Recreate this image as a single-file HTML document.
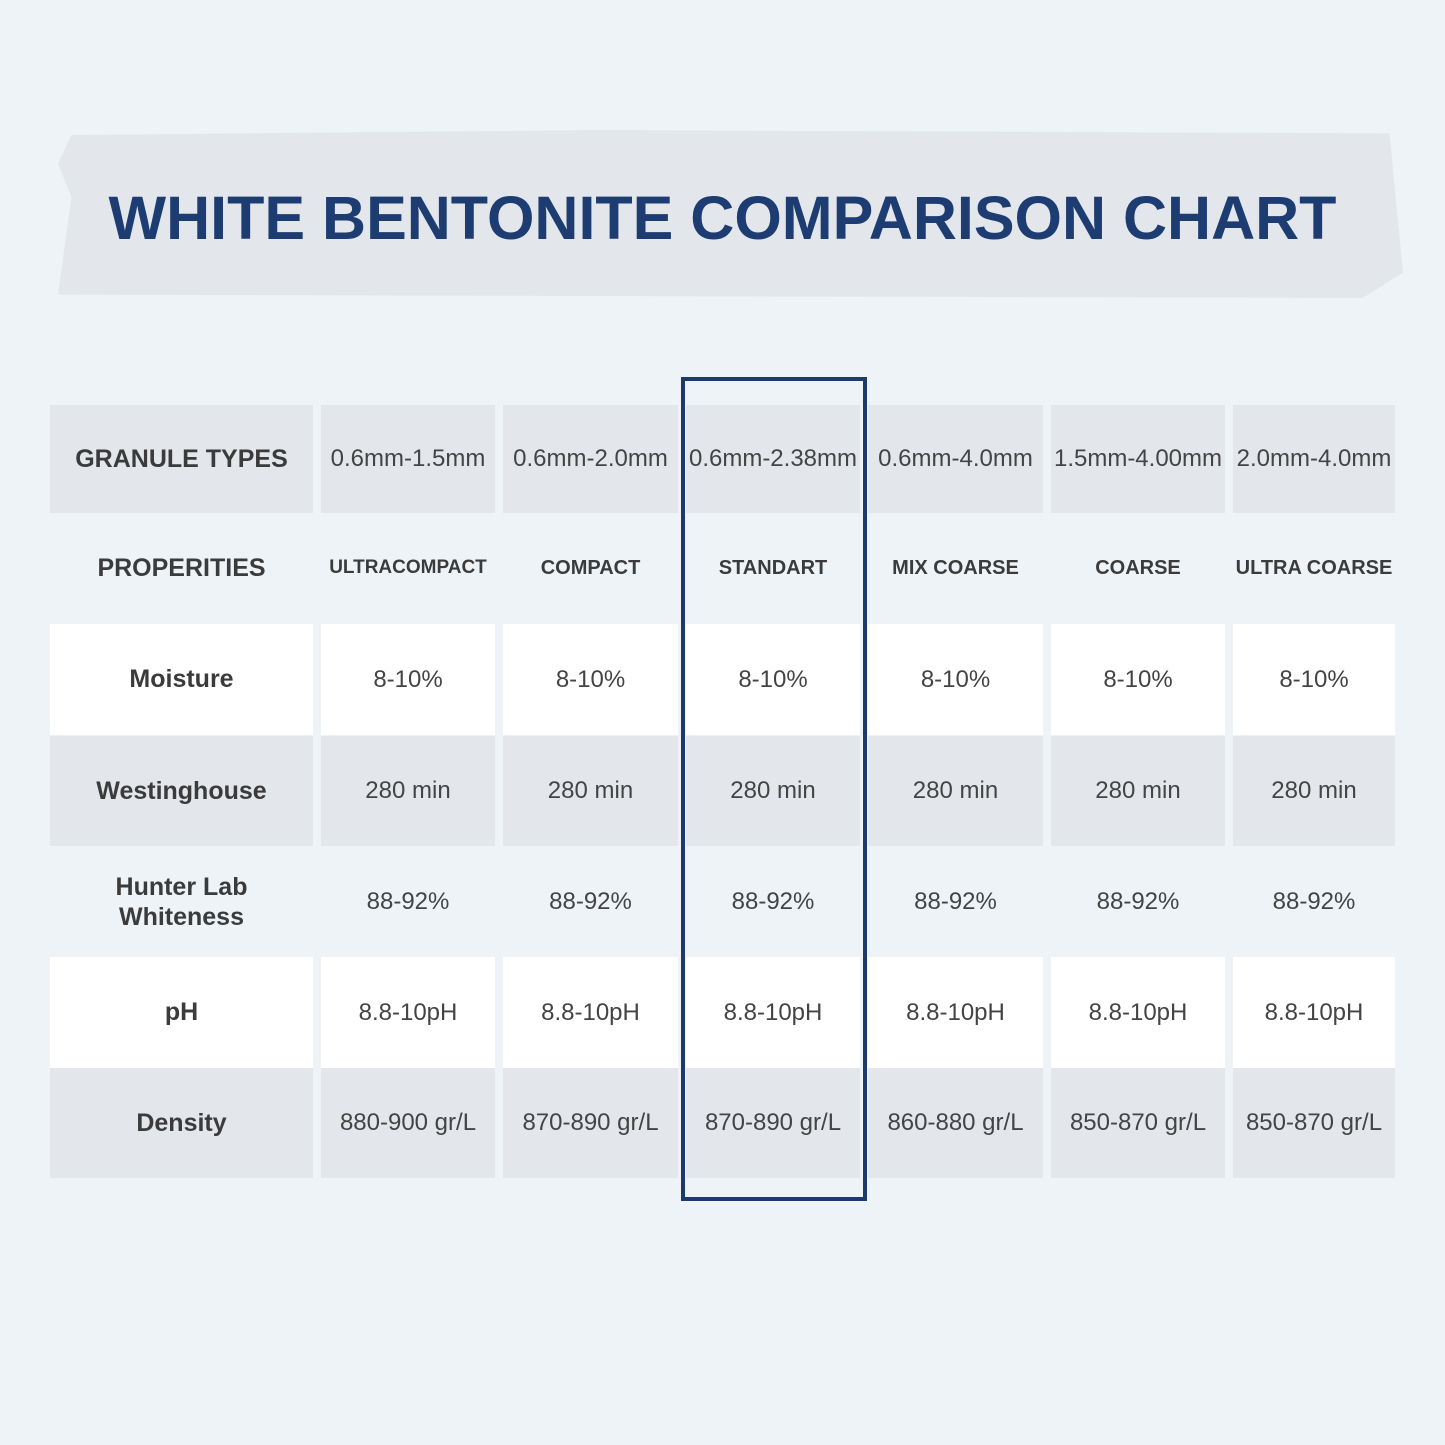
<!DOCTYPE html>
<html><head><style>
body{margin:0;width:1445px;height:1445px;background:#eef3f7;position:relative;overflow:hidden;font-family:"Liberation Sans",sans-serif;}
.banner{position:absolute;left:58px;top:130px;width:1345px;height:168px;background:#e3e7eb;clip-path:polygon(1% 3%,40% 0,99% 2%,100% 85%,97% 100%,0 98%,1% 40%,0 20%);}
.title{position:absolute;left:0;width:1445px;top:183px;text-align:center;font-weight:bold;font-size:61px;color:#1d3c72;white-space:nowrap;}
.c{position:absolute;display:flex;align-items:center;justify-content:center;text-align:center;color:#444;font-size:24px;box-sizing:border-box;white-space:nowrap;}
.g{background:#e3e7eb}.w{background:#fff}.b{background:transparent}
.l{font-weight:bold;font-size:25px;color:#3b3b3b}
.p{font-weight:bold;font-size:20px;color:#3b3b3b}
.box{position:absolute;left:681px;top:377px;width:186px;height:824px;border:4px solid #1c3a6b;box-sizing:border-box;}
</style></head><body>
<div class="banner"></div>
<div class="title">WHITE BENTONITE COMPARISON CHART</div>
<div id="t"></div>
<div class="box"></div>
<script>
var cols=[[50,263],[321,174],[503,175],[686,174],[868,175],[1051,174],[1233,162]];
var rows=[[405,108,'g'],[513,110,'b'],[624,111,'w'],[736,110,'g'],[846,111,'b'],[957,111,'w'],[1068,110,'g']];
var data=[
["GRANULE TYPES","0.6mm-1.5mm","0.6mm-2.0mm","0.6mm-2.38mm","0.6mm-4.0mm","1.5mm-4.00mm","2.0mm-4.0mm"],
["PROPERITIES","ULTRACOMPACT","COMPACT","STANDART","MIX COARSE","COARSE","ULTRA COARSE"],
["Moisture","8-10%","8-10%","8-10%","8-10%","8-10%","8-10%"],
["Westinghouse","280 min","280 min","280 min","280 min","280 min","280 min"],
["Hunter Lab<br>Whiteness","88-92%","88-92%","88-92%","88-92%","88-92%","88-92%"],
["pH","8.8-10pH","8.8-10pH","8.8-10pH","8.8-10pH","8.8-10pH","8.8-10pH"],
["Density","880-900 gr/L","870-890 gr/L","870-890 gr/L","860-880 gr/L","850-870 gr/L","850-870 gr/L"]];
var h='';
rows.forEach(function(r,i){cols.forEach(function(c,j){
var cls='c '+r[2]+(j==0?' l':(i==1?' p':''));
var st='';
if(i==4&&j==0)st='line-height:30px;white-space:normal;';
if(i==1&&j>0)st='font-size:'+(j==1?'19px':'20px')+';';
h+='<div class="'+cls+'" style="left:'+c[0]+'px;top:'+r[0]+'px;width:'+c[1]+'px;height:'+r[1]+'px;'+st+'">'+data[i][j]+'</div>';});});
document.getElementById('t').innerHTML=h;
</script>
</body></html>
